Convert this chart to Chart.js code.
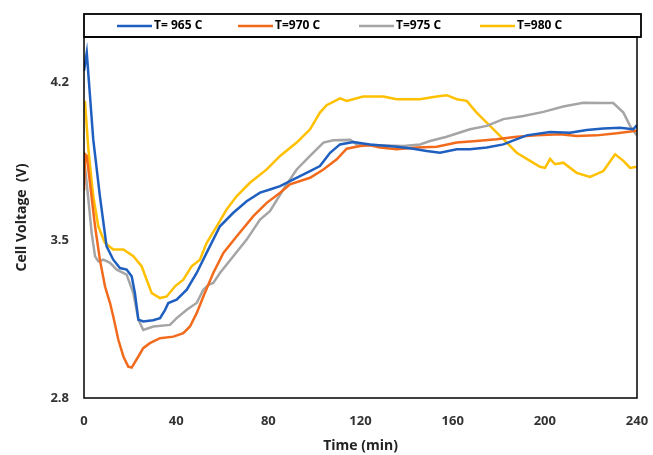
<!DOCTYPE html>
<html>
<head>
<meta charset="utf-8">
<script src="https://cdn.jsdelivr.net/npm/chart.js@4"></script>
<style>
  html, body { margin: 0; padding: 0; background: #fff; }
  #wrap { width: 653px; height: 455px; }
</style>
</head>
<body>
<div id="wrap"><canvas id="myChart" width="653" height="455"></canvas></div>
<script>
// series names
const seriesNames = ['T= 965 C', 'T=970 C', 'T=975 C', 'T=980 C'];

// time (min) / cell voltage (V)
const t965 = [0, 1.2, 4, 6.9, 9.8, 12.7, 15.6, 18.5, 20.7, 22.1, 23.6, 25.7, 30, 33, 35.2, 36.6, 40.2, 44.6, 48.9, 53.2, 59, 64.8, 70.6, 76.4, 80.7, 85.1, 89.4, 98.1, 102.4, 106.8, 111.1, 116.9, 124.1, 135.7, 142.9, 148.7, 154.5, 161.8, 167.5, 174.8, 182, 192.1, 202.3, 210.9, 218.2, 225.4, 232.6, 238.4, 239.9];
const v965 = [4.25, 4.33, 3.947, 3.695, 3.472, 3.413, 3.376, 3.369, 3.339, 3.265, 3.147, 3.139, 3.145, 3.154, 3.191, 3.221, 3.236, 3.28, 3.354, 3.443, 3.561, 3.621, 3.672, 3.71, 3.724, 3.739, 3.761, 3.806, 3.828, 3.887, 3.924, 3.935, 3.924, 3.914, 3.905, 3.895, 3.887, 3.902, 3.902, 3.91, 3.924, 3.964, 3.979, 3.976, 3.988, 3.994, 3.998, 3.991, 4.009];

const t970 = [0, 0.5, 1.2, 4.8, 6.9, 9.1, 11.3, 12.7, 14.9, 17.1, 19.2, 20.7, 23.6, 25.7, 28.6, 33, 38.8, 43.1, 46, 48.9, 51.8, 56.1, 60.5, 66.3, 73.5, 79.3, 85.1, 89.4, 98.1, 103.9, 109.7, 114, 119.8, 124.1, 128.5, 135.7, 144.4, 153.1, 161.8, 170.4, 179.1, 187.8, 196.5, 206.6, 213.8, 222.5, 231.2, 239.9];
const v970 = [3.72, 3.88, 3.873, 3.561, 3.413, 3.295, 3.221, 3.161, 3.058, 2.984, 2.939, 2.935, 2.984, 3.021, 3.043, 3.065, 3.072, 3.087, 3.117, 3.176, 3.25, 3.354, 3.443, 3.517, 3.606, 3.665, 3.71, 3.747, 3.776, 3.813, 3.858, 3.905, 3.917, 3.92, 3.91, 3.902, 3.91, 3.914, 3.932, 3.939, 3.947, 3.958, 3.964, 3.969, 3.961, 3.964, 3.973, 3.984];

const t975 = [0.4, 1.9, 3.3, 4.8, 6.2, 8.4, 11.3, 14.2, 18.5, 21.4, 23.6, 25.7, 30.1, 37.3, 40.2, 44.6, 48.9, 51.8, 54, 56.1, 59, 64.8, 70.6, 76.4, 80.7, 86.5, 92.3, 98.1, 103.9, 108.2, 115.5, 118.4, 127, 138.6, 145.8, 150.2, 157.4, 167.5, 174.8, 182, 190.7, 199.4, 208, 216.7, 224, 229.7, 234.1, 237, 239.9];
const v975 = [3.828, 3.68, 3.532, 3.428, 3.406, 3.413, 3.399, 3.369, 3.347, 3.265, 3.147, 3.102, 3.117, 3.124, 3.154, 3.191, 3.221, 3.28, 3.302, 3.31, 3.354, 3.428, 3.502, 3.591, 3.628, 3.724, 3.813, 3.873, 3.932, 3.942, 3.944, 3.924, 3.92, 3.917, 3.924, 3.939, 3.958, 3.991, 4.006, 4.036, 4.05, 4.068, 4.092, 4.109, 4.107, 4.107, 4.065, 4.006, 3.964];

const t980 = [0.4, 1.9, 4, 6.2, 9.1, 12.7, 17.1, 21.4, 25, 27.2, 29.4, 33, 35.9, 39.5, 43.1, 46.7, 50.3, 53.2, 57.6, 61.9, 66.3, 72, 79.3, 85.1, 92.3, 98.1, 102.4, 105.3, 111.1, 114, 121.2, 129.9, 135.7, 145.8, 153.1, 157.4, 161.8, 166.1, 170.4, 176.2, 182, 187.8, 193.6, 197.9, 200.1, 202.3, 204.4, 208, 213.8, 219.6, 225.4, 230.5, 234.1, 237, 239.9];
const v980 = [4.117, 3.902, 3.695, 3.561, 3.487, 3.458, 3.458, 3.428, 3.384, 3.324, 3.265, 3.243, 3.25, 3.295, 3.324, 3.384, 3.413, 3.487, 3.561, 3.636, 3.695, 3.754, 3.813, 3.873, 3.932, 3.991, 4.065, 4.098, 4.128, 4.117, 4.136, 4.136, 4.124, 4.124, 4.136, 4.142, 4.124, 4.117, 4.065, 4.006, 3.947, 3.887, 3.851, 3.825, 3.82, 3.86, 3.836, 3.843, 3.798, 3.78, 3.806, 3.88, 3.851, 3.82, 3.825];

const xTicks = [0, 40, 80, 120, 160, 200, 240];
const yTicks = [2.8, 3.5, 4.2];

const colors = ['#1f5fbf', '#f26b1d', '#a5a5a5', '#ffc000'];

function pairs(ts, vs) {
    return ts.map(function (t, i) { return { x: t, y: vs[i] }; });
}

const allT = [t965, t970, t975, t980];
const allV = [v965, v970, v975, v980];

const datasets = [];
for (let i = 0; i < seriesNames.length; i++) {
    datasets.push({
        label: seriesNames[i],
        data: pairs(allT[i], allV[i]),
        borderColor: colors[i],
        backgroundColor: colors[i],
        borderWidth: 2.5,
        pointRadius: 0,
        tension: 0
    });
}

const labelFont = { family: "'Open Sans', sans-serif", size: 13, weight: 'bold' };

// frame round the plot and the boxed legend on top
const framePlugin = {
    id: 'frame',
    afterDraw: function (chart) {
        const ctx = chart.ctx;
        const a = chart.chartArea;
        ctx.save();
        ctx.strokeStyle = '#000';
        ctx.lineWidth = 1.5;
        ctx.strokeRect(a.left, a.top, a.right - a.left, a.bottom - a.top);

        // legend box
        ctx.lineWidth = 1.8;
        ctx.strokeRect(a.left, 14, a.right - a.left + 4, a.top - 14);

        ctx.font = 'bold 12px "Open Sans", sans-serif';
        ctx.textBaseline = 'middle';
        const midY = (14 + a.top) / 2 + 0.5;
        let x = a.left + 33;
        chart.data.datasets.forEach(function (ds) {
            ctx.strokeStyle = ds.borderColor;
            ctx.lineWidth = 2.5;
            ctx.beginPath();
            ctx.moveTo(x, midY);
            ctx.lineTo(x + 35, midY);
            ctx.stroke();
            ctx.fillStyle = '#000';
            ctx.fillText(ds.label, x + 37, midY);
            x += 121;
        });
        ctx.restore();
    }
};

const config = {
    type: 'line',
    data: { datasets: datasets },
    options: {
        responsive: false,
        animation: false,
        layout: { autoPadding: false, padding: { top: 37, right: 16, left: 0, bottom: 0 } },
        plugins: {
            legend: { display: false },
            tooltip: { enabled: false }
        },
        scales: {
            x: {
                type: 'linear',
                min: 0,
                max: 240,
                grid: { display: false, drawTicks: false },
                border: { display: false },
                afterFit: function (scale) {
                    scale.height = 57;
                    scale.paddingLeft = 0;
                    scale.paddingRight = 0;
                },
                afterBuildTicks: function (scale) {
                    scale.ticks = xTicks.map(function (v) { return { value: v }; });
                },
                ticks: {
                    padding: 15,
                    color: '#333',
                    font: labelFont,
                    maxRotation: 0,
                    callback: function (v) { return String(v); }
                },
                title: {
                    display: true,
                    text: 'Time (min)',
                    color: '#222',
                    font: { family: "'Open Sans', sans-serif", size: 14, weight: 'bold' },
                    padding: { top: 0, bottom: 1 }
                }
            },
            y: {
                min: 2.8,
                max: 4.4,
                grid: { display: false, drawTicks: false },
                border: { display: false },
                afterFit: function (scale) { scale.width = 84; },
                afterBuildTicks: function (scale) {
                    scale.ticks = yTicks.map(function (v) { return { value: v }; });
                },
                ticks: {
                    padding: 15,
                    color: '#333',
                    font: labelFont,
                    callback: function (v) { return v.toFixed(1); }
                },
                title: {
                    display: true,
                    text: 'Cell Voltage  (V)',
                    color: '#222',
                    font: { family: "'Open Sans', sans-serif", size: 14, weight: 'bold' },
                    padding: { top: 14, bottom: 0 }
                }
            }
        }
    },
    plugins: [framePlugin]
};

const myChart = new Chart(document.getElementById('myChart'), config);
</script>
</body>
</html>
